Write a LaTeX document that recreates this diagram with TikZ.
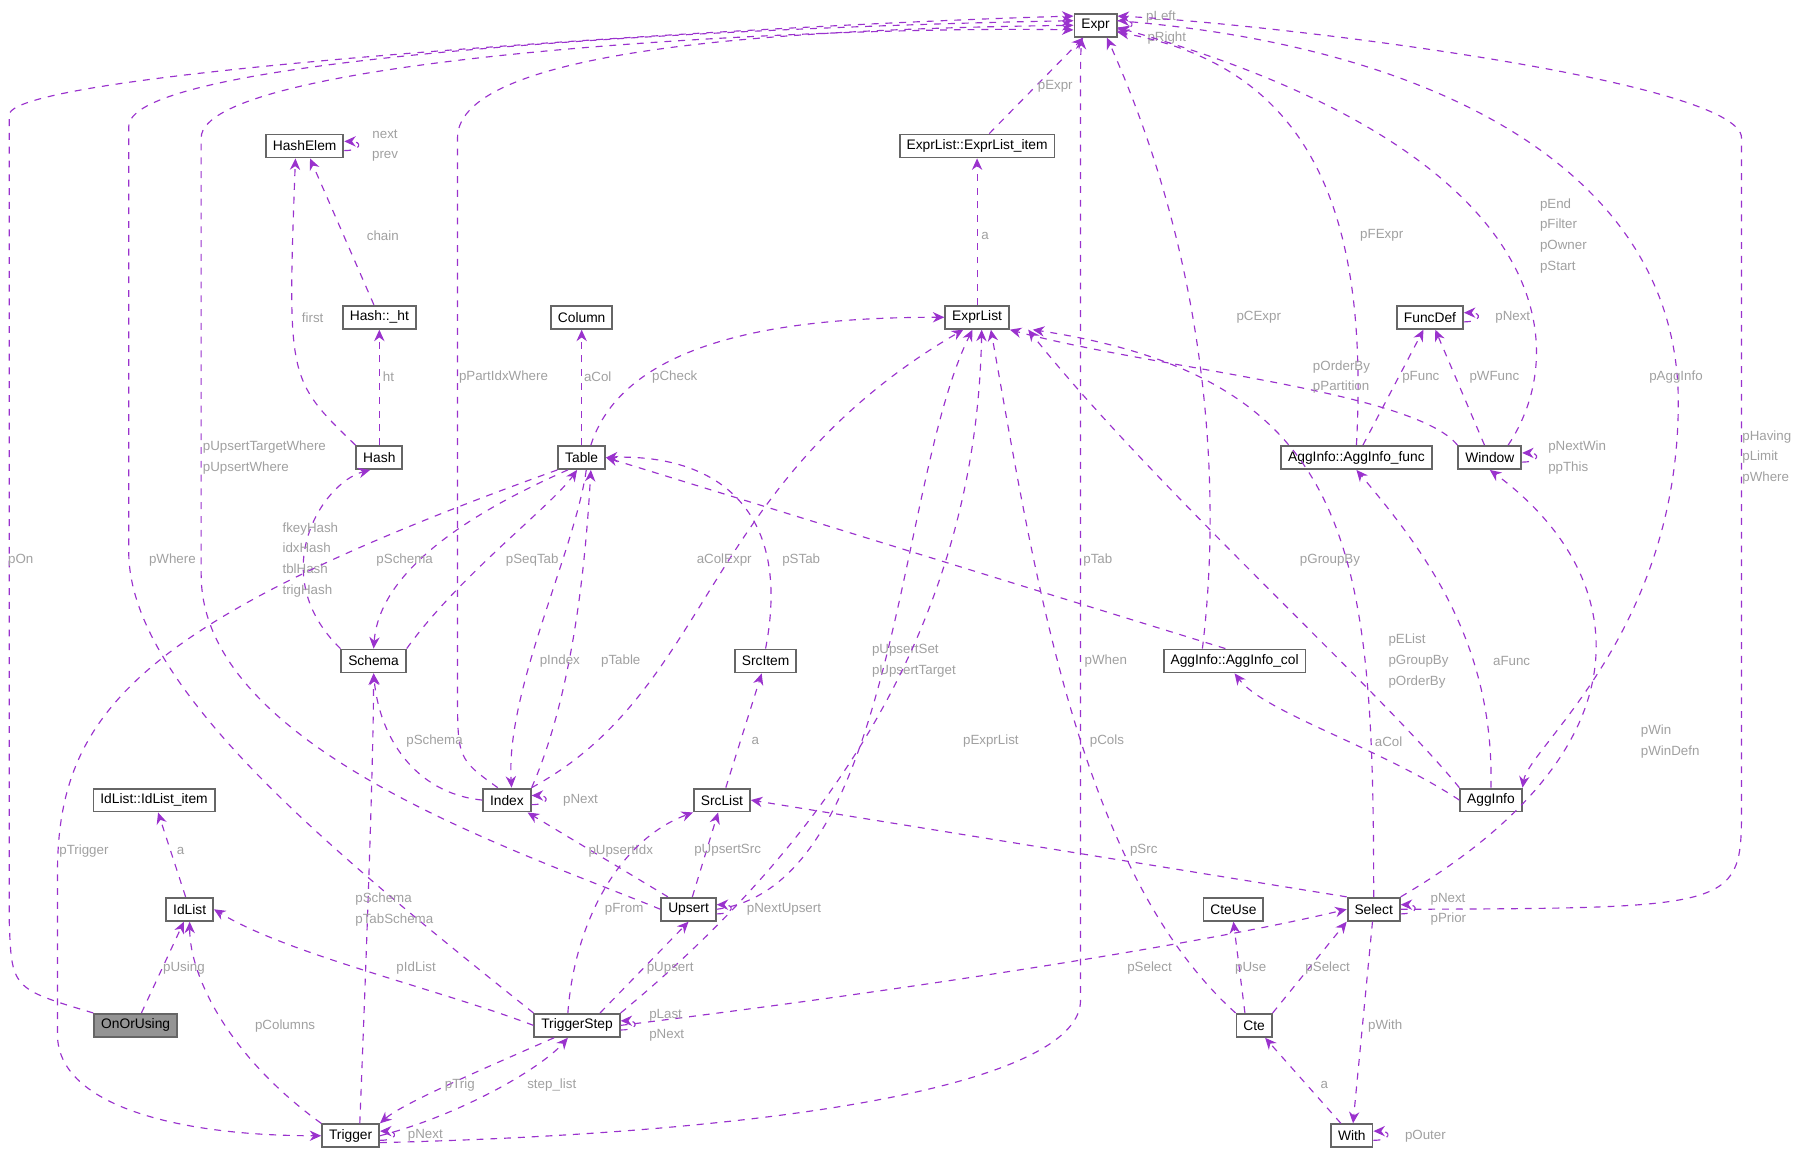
\documentclass[tikz,border=0pt]{standalone}
\usepackage{fontspec}
\setmainfont{Liberation Sans}
\usetikzlibrary{arrows.meta}
\definecolor{relcol}{RGB}{154, 50, 205}
\definecolor{lblcol}{RGB}{160, 160, 160}
\definecolor{boxcol}{RGB}{102, 102, 102}
\tikzset{
  cls/.style={draw=boxcol, line width=0.8pt, fill=white, minimum height=10pt, inner xsep=3pt, inner ysep=1pt, font=\fontsize{6}{7}\selectfont},
  rel/.style={draw=relcol, dashed, line width=0.5pt, -{Stealth[length=5pt,width=4.5pt]}},
  lbl/.style={text=lblcol, inner sep=0.5pt, font=\fontsize{5.8}{7}\selectfont, align=left},
}
\begin{document}
\begin{tikzpicture}[x=0.5pt,y=-0.5pt]
\useasboundingbox (0,0) rectangle (1565,1002);
% classes
\node[cls] (expr) at (953,22) {Expr};
\node[cls] (item) at (850,127) {ExprList::ExprList\_item};
\node[cls] (hashelem) at (265,127) {HashElem};
\node[cls] (hashht) at (330,276) {Hash::\_ht};
\node[cls] (column) at (506,276) {Column};
\node[cls] (exprlist) at (850,276) {ExprList};
\node[cls] (funcdef) at (1244,276) {FuncDef};
\node[cls] (hash) at (330,398) {Hash};
\node[cls] (table) at (506,398) {Table};
\node[cls] (aggfunc) at (1180,398) {AggInfo::AggInfo\_func};
\node[cls] (window) at (1296,398) {Window};
\node[cls] (schema) at (325,575) {Schema};
\node[cls] (srcitem) at (666,575) {SrcItem};
\node[cls] (aggcol) at (1074,575) {AggInfo::AggInfo\_col};
\node[cls] (iditem) at (134,696) {IdList::IdList\_item};
\node[cls] (index) at (441,696) {Index};
\node[cls] (srclist) at (628,696) {SrcList};
\node[cls] (agginfo) at (1297,696) {AggInfo};
\node[cls] (idlist) at (165,791) {IdList};
\node[cls] (upsert) at (599,791) {Upsert};
\node[cls] (cteuse) at (1073,791) {CteUse};
\node[cls] (select) at (1195,791) {Select};
\node[cls, fill=boxcol!70] (onorusing) at (118,892) {OnOrUsing};
\node[cls] (trigstep) at (502,892) {TriggerStep};
\node[cls] (cte) at (1091,892) {Cte};
\node[cls] (trigger) at (305,988) {Trigger};
\node[cls] (with) at (1176,988) {With};
% relations
\draw[rel] ([yshift=-2pt]expr.east) to[out=0,in=0,looseness=5] ([yshift=2pt]expr.east);
\draw[rel] ([yshift=-3pt]expr.east) to[out=-10,in=-20,looseness=2] ([yshift=-1pt]expr.east);
\node[lbl] (lLeft) at (1010,15) {pLeft};
\node[lbl] (lRight) at (1015,33) {pRight};
\draw[rel] (item) -- (expr);
\node[lbl] (lpExpr) at (918,75) {pExpr};
\draw[rel] (exprlist) -- (item);
\node[lbl] (lItemA) at (857,205) {a};
\draw[rel] ([yshift=-2pt]hashelem.east) to[out=0,in=0,looseness=5] ([yshift=2pt]hashelem.east);
\node[lbl] (lNext) at (335,117) {next};
\node[lbl] (lPrev) at (335,136) {prev};
\draw[rel] (hashht) -- (hashelem);
\node[lbl] (lChain) at (333,205) {chain};
\draw[rel] (hash.north west) .. controls (250,330) .. ([xshift=-4pt]hashelem.south);
\node[lbl] (lFirst) at (272,276) {first};
\draw[rel] (hash) -- (hashht);
\node[lbl] (lHt) at (338,328) {ht};
\draw[rel] (table) -- (column);
\node[lbl] (lACol) at (520,328) {aCol};
\draw[rel] ([xshift=4pt]table.north) .. controls (545,290) and (700,276) .. (exprlist.west);
\node[lbl] (lCheck) at (587,328) {pCheck};
\draw[rel] ([yshift=-2pt]funcdef.east) to[out=0,in=0,looseness=5] ([yshift=2pt]funcdef.east);
\node[lbl] (lFNext) at (1316,276) {pNext};
\draw[rel] (aggfunc.north) .. controls (1190,200) and (1150,60) .. ([yshift=-3pt]expr.east);
\node[lbl] (lFExpr) at (1202,205) {pFExpr};
\draw[rel] (aggfunc) -- (funcdef);
\node[lbl] (lFunc) at (1236,328) {pFunc};
\draw[rel] (window) -- (funcdef);
\node[lbl] (lWFunc) at (1300,328) {pWFunc};
\draw[rel] ([xshift=8pt]window.north) .. controls (1370,300) and (1350,130) .. ([yshift=-1pt]expr.east);
\node[lbl] (lWin) at (1360,205) {pEnd\\[2pt]pFilter\\[2pt]pOwner\\[2pt]pStart};
\draw[rel] (window.north west) .. controls (1230,340) and (1000,320) .. (exprlist.south east);
\node[lbl] (lOrder) at (1167,328) {pOrderBy\\[2pt]pPartition};
\draw[rel] ([yshift=-2pt]window.east) to[out=0,in=0,looseness=5] ([yshift=2pt]window.east);
\node[lbl] (lNWin) at (1372,398) {pNextWin\\[2pt]ppThis};
\draw[rel] (schema.north west) .. controls (230,500) and (280,420) .. ([xshift=-4pt]hash.south);
\node[lbl] (lHashes) at (270,487) {fkeyHash\\[2pt]idxHash\\[2pt]tblHash\\[2pt]trigHash};
\draw[rel] (schema.north east) .. controls (400,500) and (480,440) .. ([xshift=-2pt]table.south);
\node[lbl] (lSeqTab) at (463,487) {pSeqTab};
\draw[rel] ([xshift=-6pt]table.south) .. controls (400,450) and (330,500) .. (schema.north);
\node[lbl] (lSchemaT) at (352,487) {pSchema};
\draw[rel] (table.south west) .. controls (120,540) and (50,620) .. (50,760) -- (50,900) .. controls (50,960) and (150,988) .. (trigger.west);
\node[lbl] (lTrigger) at (73,740) {pTrigger};
\draw[rel] (index.north east) .. controls (500,600) and (510,480) .. ([xshift=4pt]table.south);
\node[lbl] (lTable) at (540,575) {pTable};
\draw[rel] ([xshift=2pt]table.south) .. controls (500,480) and (440,600) .. ([xshift=2pt]index.north);
\node[lbl] (lIndex) at (487,575) {pIndex};
\draw[rel] ([yshift=-2pt]index.east) to[out=0,in=0,looseness=5] ([yshift=2pt]index.east);
\node[lbl] (lINext) at (505,696) {pNext};
\draw[rel] ([xshift=-4pt]index.north) .. controls (398,660) .. (398,600) -- (398,120) .. controls (398,40) and (700,25) .. (expr.west);
\node[lbl] (lPart) at (438,328) {pPartIdxWhere};
\draw[rel] (index.north east) .. controls (620,600) and (610,420) .. ([xshift=-6pt]exprlist.south);
\node[lbl] (lAColExpr) at (630,487) {aColExpr};
\draw[rel] (index.west) .. controls (360,690) and (330,640) .. (schema.south);
\node[lbl] (lSchemaI) at (378,645) {pSchema};
\draw[rel] (srcitem.north) .. controls (690,440) and (620,395) .. (table.east);
\node[lbl] (lSTab) at (697,487) {pSTab};
\draw[rel] (srclist) -- (srcitem);
\node[lbl] (lSrcA) at (657,645) {a};
\draw[rel] ([xshift=-14pt]aggcol.north) .. controls (1060,450) and (1060,250) .. ([xshift=5pt]expr.south);
\node[lbl] (lCExpr) at (1095,276) {pCExpr};
\draw[rel] ([xshift=-4pt]aggcol.north) -- (table.east);
\node[lbl] (lTab) at (955,487) {pTab};
\draw[rel] (agginfo.west) .. controls (1200,650) and (1100,620) .. (aggcol.south);
\node[lbl] (lACol2) at (1208,645) {aCol};
\draw[rel] (agginfo.north) .. controls (1300,560) and (1240,480) .. (aggfunc.south);
\node[lbl] (lAFunc) at (1315,575) {aFunc};
\draw[rel] (agginfo.north west) .. controls (1200,600) and (1000,420) .. ([xshift=8pt]exprlist.south east);
\node[lbl] (lGroupA) at (1157,487) {pGroupBy};
\draw[rel] ([yshift=2pt]expr.east) .. controls (1250,40) and (1460,150) .. (1460,350) .. controls (1460,550) and (1330,650) .. (agginfo.north east);
\node[lbl] (lAggInfo) at (1458,328) {pAggInfo};
\draw[rel] (select.east) .. controls (1515,790) .. (1515,700) -- (1515,120) .. controls (1515,70) and (1100,20) .. ([yshift=4pt]expr.east);
\node[lbl] (lHaving) at (1537,398) {pHaving\\[2pt]pLimit\\[2pt]pWhere};
\draw[rel] (select.north east) .. controls (1440,650) and (1420,500) .. (window.south);
\node[lbl] (lWinS) at (1453,645) {pWin\\[2pt]pWinDefn};
\draw[rel] (select.north) .. controls (1195,480) and (1180,330) .. ([xshift=10pt]exprlist.south east);
\node[lbl] (lEList) at (1234,575) {pEList\\[2pt]pGroupBy\\[2pt]pOrderBy};
\draw[rel] (select.north west) -- (srclist.east);
\node[lbl] (lSrc) at (995,740) {pSrc};
\draw[rel] ([yshift=-2pt]select.east) to[out=0,in=0,looseness=5] ([yshift=2pt]select.east);
\node[lbl] (lSNext) at (1260,791) {pNext\\[2pt]pPrior};
\draw[rel] (select) -- (with);
\node[lbl] (lWith) at (1205,893) {pWith};
\draw[rel] (idlist) -- (iditem);
\node[lbl] (lIdA) at (157,740) {a};
\draw[rel] (onorusing) -- (idlist);
\node[lbl] (lUsing) at (160,842) {pUsing};
\draw[rel] (onorusing.north west) .. controls (10,860) .. (8,800) -- (8,100) .. controls (8,60) and (700,20) .. ([yshift=4pt]expr.west);
\node[lbl] (lOn) at (18,487) {pOn};
\draw[rel] (upsert.west) .. controls (450,740) and (175,650) .. (175,500) -- (175,120) .. controls (175,50) and (700,22) .. ([yshift=-2pt]expr.west);
\node[lbl] (lUTW) at (230,398) {pUpsertTargetWhere\\[2pt]pUpsertWhere};
\draw[rel] (upsert.east) .. controls (780,770) and (780,420) .. ([xshift=-2pt]exprlist.south);
\node[lbl] (lUSet) at (795,575) {pUpsertSet\\[2pt]pUpsertTarget};
\draw[rel] (upsert) -- (index);
\node[lbl] (lUIdx) at (540,740) {pUpsertIdx};
\draw[rel] (upsert) -- (srclist);
\node[lbl] (lUSrc) at (633,740) {pUpsertSrc};
\draw[rel] ([yshift=-2pt]upsert.east) to[out=0,in=0,looseness=5] ([yshift=2pt]upsert.east);
\node[lbl] (lNUps) at (682,791) {pNextUpsert};
\draw[rel] (trigstep.north west) .. controls (300,750) and (112,600) .. (112,480) -- (112,110) .. controls (112,45) and (700,22) .. ([yshift=2pt]expr.west);
\node[lbl] (lWhereT) at (150,487) {pWhere};
\draw[rel] (trigstep.north east) .. controls (760,700) and (850,500) .. ([xshift=2pt]exprlist.south);
\node[lbl] (lExprList) at (862,645) {pExprList};
\draw[rel] ([xshift=-4pt]trigstep.north) .. controls (500,800) and (540,730) .. (srclist.south west);
\node[lbl] (lFrom) at (543,791) {pFrom};
\draw[rel] ([xshift=10pt]trigstep.north) -- (upsert.south);
\node[lbl] (lUpsert) at (583,842) {pUpsert};
\draw[rel] (trigstep.west) .. controls (380,860) and (250,830) .. (idlist.east);
\node[lbl] (lIdList) at (362,842) {pIdList};
\draw[rel] (trigstep.east) .. controls (800,860) and (1050,820) .. (select.west);
\node[lbl] (lSelT) at (1000,842) {pSelect};
\draw[rel] ([yshift=-2pt]trigstep.east) to[out=0,in=0,looseness=5] ([yshift=2pt]trigstep.east);
\node[lbl] (lLast) at (580,892) {pLast\\[2pt]pNext};
\draw[rel] ([xshift=-10pt]trigstep.south) .. controls (420,930) and (350,960) .. (trigger.north east);
\node[lbl] (lTrig) at (400,944) {pTrig};
\draw[rel] (trigger.east) .. controls (400,970) and (470,930) .. ([xshift=-4pt]trigstep.south);
\node[lbl] (lStep) at (480,944) {step\_list};
\draw[rel] ([xshift=4pt]trigger.north) .. controls (320,800) and (325,650) .. (schema.south);
\node[lbl] (lTabSchema) at (343,791) {pSchema\\[2pt]pTabSchema};
\draw[rel] (trigger.north west) .. controls (200,920) and (165,850) .. (idlist.south);
\node[lbl] (lCols) at (248,893) {pColumns};
\draw[rel] ([yshift=-3pt]trigger.east) .. controls (700,985) and (940,940) .. (940,870) -- (940,80) .. controls (940,50) .. ([xshift=-6pt]expr.south);
\node[lbl] (lWhen) at (962,575) {pWhen};
\draw[rel] ([yshift=-2pt]trigger.east) to[out=0,in=0,looseness=5] ([yshift=2pt]trigger.east);
\node[lbl] (lTNext) at (370,988) {pNext};
\draw[rel] (cte.north west) .. controls (940,760) and (900,500) .. ([xshift=6pt]exprlist.south);
\node[lbl] (lColsC) at (963,645) {pCols};
\draw[rel] ([xshift=-4pt]cte.north) -- (cteuse.south);
\node[lbl] (lUse) at (1088,842) {pUse};
\draw[rel] (cte.north east) -- (select.south west);
\node[lbl] (lSelC) at (1155,842) {pSelect};
\draw[rel] (with) -- (cte);
\node[lbl] (lWithA) at (1152,944) {a};
\draw[rel] ([yshift=-2pt]with.east) to[out=0,in=0,looseness=5] ([yshift=2pt]with.east);
\node[lbl] (lOuter) at (1240,988) {pOuter};
\end{tikzpicture}
\end{document}
